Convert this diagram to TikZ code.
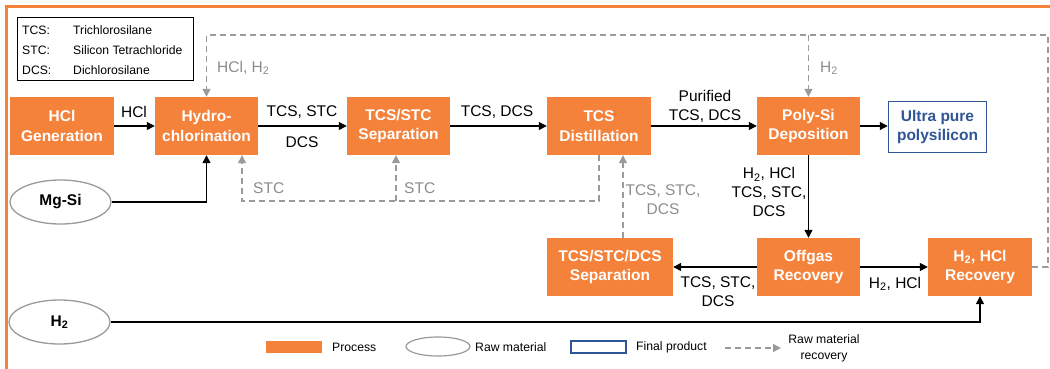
\documentclass[tikz,border=0pt]{standalone}
\usepackage{fontspec}
\setmainfont{Liberation Sans}
\usetikzlibrary{arrows.meta,shapes.geometric}
\definecolor{org}{HTML}{F4823B}
\definecolor{blu}{HTML}{2F5597}
\definecolor{gry}{HTML}{9A9A9A}
\definecolor{gtx}{HTML}{8C8C8C}
\begin{document}
\begin{tikzpicture}[x=1pt,y=-1pt,
 proc/.style={fill=org, draw=none, text=white, font=\fontsize{15.5}{19.5}\selectfont\bfseries, align=center, minimum height=58pt, inner sep=0pt},
 final/.style={fill=white, draw=blu, line width=1.5pt, text=blu, font=\fontsize{15.5}{19.5}\selectfont\bfseries, align=center, minimum height=51pt, minimum width=98pt, inner sep=0pt},
 raw/.style={ellipse, draw=gry, line width=1.3pt, fill=white, minimum width=101pt, minimum height=44pt, inner sep=0pt, font=\fontsize{15.5}{19}\selectfont\bfseries},
 flow/.style={line width=1.3pt, -{Triangle[length=8pt,width=8pt]}},
 rec/.style={draw=gry, line width=1.3pt, dash pattern=on 6pt off 4pt, -{Triangle[length=8pt,width=8pt]}},
 lbl/.style={font=\fontsize{15.5}{19}\selectfont, inner sep=0pt, align=center},
 glbl/.style={lbl, text=gtx},
 leg/.style={font=\fontsize{12.2}{14}\selectfont, inner sep=0pt, anchor=west}
]
\useasboundingbox (0,0) rectangle (1050,369);
% frame
\draw[org, line width=3pt] (6.5,369) -- (6.5,6.5) -- (1050,6.5);
% abbreviation legend
\node[draw=black, line width=0.8pt, minimum width=176pt, minimum height=63pt, inner sep=0pt] (abbr) at (105,48.5) {};
\node[leg] (l1a) at (22,30) {TCS:};
\node[leg] (l1b) at (73,30) {Trichlorosilane};
\node[leg] (l2a) at (22,50) {STC:};
\node[leg] (l2b) at (73,50) {Silicon Tetrachloride};
\node[leg] (l3a) at (22,70) {DCS:};
\node[leg] (l3b) at (73,70) {Dichlorosilane};
% process boxes
\node[proc, minimum width=104pt] (gen) at (62,126) {HCl\\Generation};
\node[proc, minimum width=103pt] (hyd) at (206.5,126) {Hydro-\\chlorination};
\node[proc, minimum width=103pt] (sep) at (398.5,126) {TCS/STC\\Separation};
\node[proc, minimum width=104pt] (dist) at (599,126) {TCS\\Distillation};
\node[proc, minimum width=103pt] (poly) at (808.5,126) {Poly-Si\\Deposition};
\node[final] (ultra) at (937.5,127) {Ultra pure\\polysilicon};
\node[proc, minimum width=126pt] (tsd) at (610,267) {TCS/STC/DCS\\Separation};
\node[proc, minimum width=103pt] (off) at (808.5,267) {Offgas\\Recovery};
\node[proc, minimum width=104pt] (hrec) at (980,267) {H\textsubscript{2}, HCl\\Recovery};
\node[raw] (mgsi) at (60.5,202) {Mg-Si};
\node[raw] (h2) at (59.5,322) {H\textsubscript{2}};
% main flows
\draw[flow] (gen) -- (hyd);
\draw[flow] (hyd) -- (sep);
\draw[flow] (sep) -- (dist);
\draw[flow] (dist) -- (poly);
\draw[flow] (poly) -- (ultra.west |- poly);
\draw[flow] (mgsi.east) -| (hyd.south);
\draw[flow] (poly.south) -- (off.north);
\draw[flow] (off) -- (tsd);
\draw[flow] (off) -- (hrec);
\draw[flow] (h2.east) -| (hrec.south);
% flow labels
\node[lbl] (t1) at (134,112) {HCl};
\node[lbl] (t2) at (302,112) {TCS, STC};
\node[lbl] (t3) at (302,142) {DCS};
\node[lbl] (t4) at (497,112) {TCS, DCS};
\node[lbl] (t5) at (705,106) {Purified\\TCS, DCS};
\node[lbl] (t6) at (769,192) {H\textsubscript{2}, HCl\\TCS, STC,\\DCS};
\node[lbl] (t7) at (718,292) {TCS, STC,\\DCS};
\node[lbl] (t8) at (895,284) {H\textsubscript{2}, HCl};
% recovery loops
\coordinate (tr) at (1048,35);
\draw[rec] (hrec.east) -| (tr) -| (hyd.north);
\draw[rec] (poly.north |- tr) -- (poly.north);
\coordinate (sb) at (242,201);
\coordinate (sm) at (396,201);
\draw[rec] (dist.south) |- (sb) -- (sb |- hyd.south);
\draw[rec] (sm) -- (sm |- sep.south);
\coordinate (tu) at (623,238);
\draw[rec] (tu) -- (tu |- dist.south);
\node[glbl, anchor=west] (g1) at (217,68) {HCl, H\textsubscript{2}};
\node[glbl, anchor=west] (g2) at (820,68) {H\textsubscript{2}};
\node[glbl, anchor=west] (g3) at (253,188) {STC};
\node[glbl, anchor=west] (g4) at (404,188) {STC};
\node[glbl] (g5) at (663,200) {TCS, STC,\\DCS};
% bottom legend
\node[fill=org, minimum width=56pt, minimum height=12pt, inner sep=0pt] (kp) at (294,347) {};
\node[leg] (kpt) at (332,347) {Process};
\node[ellipse, draw=gry, line width=1.2pt, minimum width=64pt, minimum height=19pt, inner sep=0pt] (kr) at (438,346.5) {};
\node[leg] (krt) at (475,347) {Raw material};
\node[draw=blu, line width=1.3pt, minimum width=55pt, minimum height=12pt, inner sep=0pt] (kf) at (598.5,347) {};
\node[leg] (kft) at (636,347) {Final product};
\coordinate (ka) at (725,348);
\coordinate (kb) at (781,348);
\draw[rec] (ka) -- (kb);
\node[font=\fontsize{12.2}{15.5}\selectfont, inner sep=0pt, align=center] (krr) at (824,348.5) {Raw material\\recovery};
\end{tikzpicture}
\end{document}
